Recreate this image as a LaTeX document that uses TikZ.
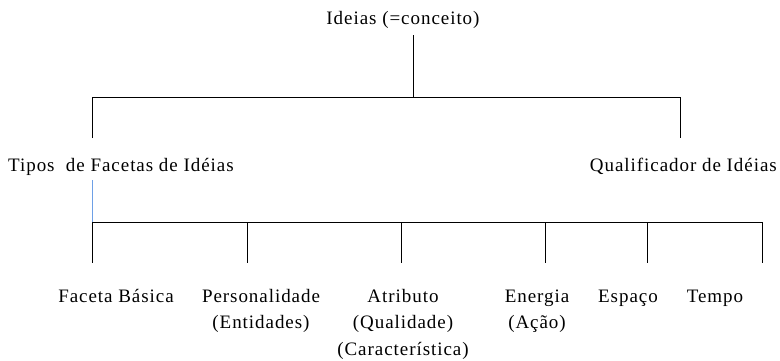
\documentclass[tikz,border=0pt]{standalone}
\usepackage{fontspec}
\setmainfont[LetterSpace=5]{Liberation Serif}
\definecolor{linkblue}{RGB}{110,160,230}
\begin{document}
\begin{tikzpicture}
    [x=1pt, y=-1pt,
    every node/.style={inner sep=0pt, font=\fontsize{19}{26.5}\selectfont},
    facet/.style={anchor=base, align=center},
    link/.style={draw=black, line width=1pt},
    bluelink/.style={draw=linkblue, line width=1pt}
    ]
    \useasboundingbox (0,0) rectangle (780,360);
    % root
    \node [anchor=base] (ideias) at (403,24) {Ideias (=conceito)};
    % second level
    \node [anchor=base west] (tipos) at (8,171) {Tipos\ \ de Facetas de Idéias};
    \node [anchor=base east] (qualif) at (777,171) {Qualificador de Idéias};
    % facets (base = last line)
    \node [facet] (basica) at (116,302) {Faceta Básica};
    \node [facet] (pers) at (261,328.5) {Personalidade\\(Entidades)};
    \node [facet] (atrib) at (403,355) {Atributo\\(Qualidade)\\(Característica)};
    \node [facet] (energia) at (537,328.5) {Energia\\(Ação)};
    \node [facet] (espaco) at (628,302) {Espaço};
    \node [facet] (tempo) at (715,302) {Tempo};
    % junctions
    \coordinate (r0) at (413,35);
    \coordinate (r1) at (413,97);
    \coordinate (ja) at (92,97);
    \coordinate (jb) at (680,97);
    \coordinate (ja2) at (92,138);
    \coordinate (jb2) at (680,138);
    \coordinate (t0) at (92,180);
    \coordinate (t1) at (92,222);
    \coordinate (t2) at (762,222);
    \draw [link] (r0) -- (r1);
    \draw [link] (ja2) -- (ja) -- (jb) -- (jb2);
    \draw [bluelink] (t0) -- (t1);
    \draw [link] (t1) -- (t2);
    \foreach \x/\n in {92/basica, 247/pers, 401/atrib, 545/energia, 647/espaco, 762/tempo}
        \draw [link] (\x,222) -- (\x,263) coordinate (d\n);
\end{tikzpicture}
\end{document}
